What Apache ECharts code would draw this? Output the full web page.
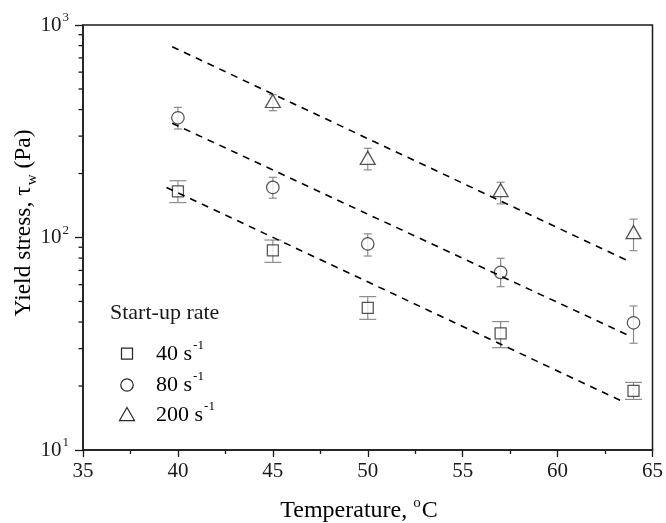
<!DOCTYPE html>
<html>
<head>
<meta charset="utf-8">
<script src="https://cdn.jsdelivr.net/npm/echarts@6/dist/echarts.min.js"></script>
<style>
  html, body { margin: 0; padding: 0; background: #fff; }
  #chart { width: 666px; height: 523px; }
</style>
</head>
<body>
<div id="chart"></div>
<script>
// Yield stress vs temperature for three start-up rates (log scale)
const temps = [40, 45, 50, 57, 64];
const temps200 = [45, 50, 57, 64];

const rate40 = [165, 87, 46.7, 35.4, 19.0];
const rate40Low = [146, 76.4, 41.2, 30.3, 17.3];
const rate40High = [185, 97.3, 52.7, 40.2, 20.8];

const rate80 = [366, 172, 93.2, 68.6, 39.7];
const rate80Low = [324, 153, 81.8, 58.7, 31.8];
const rate80High = [410, 192, 104, 79.8, 47.6];

const rate200 = [439, 237, 167, 106];
const rate200Low = [395, 208, 144, 86.7];
const rate200High = [470, 263, 182, 122];

// Exponential fits: [temperature, stress] at both ends
const fit40 = [[39.4, 172], [63.5, 16.8]];
const fit80 = [[39.7, 345], [63.8, 34.4]];
const fit200 = [[39.7, 790], [63.8, 77]];

const xTicks = [35, 40, 45, 50, 55, 60, 65];
const yMinorTicks = [20, 30, 40, 50, 60, 70, 80, 90, 200, 300, 400, 500, 600, 700, 800, 900];

const FONT = '"Liberation Serif", "Times New Roman", serif';
const INK = '#1a1a1a';
const MARK = '#2a2a2a';
const ERR = '#8c8c8c';

const chart = echarts.init(document.getElementById('chart'), null, { renderer: 'canvas' });

function pairs(xs, ys) { return xs.map((x, i) => [x, ys[i]]); }
function errData(xs, lo, hi, cap) { return xs.map((x, i) => [x, lo[i], hi[i], cap]); }

function errorBarItem(params, api) {
  const x = api.value(0);
  const lo = api.coord([x, api.value(1)]);
  const hi = api.coord([x, api.value(2)]);
  const half = api.value(3) / 2;
  const style = { stroke: ERR, lineWidth: 1.2, fill: null };
  return {
    type: 'group',
    children: [
      { type: 'line', shape: { x1: hi[0], y1: hi[1], x2: lo[0], y2: lo[1] }, style },
      { type: 'line', shape: { x1: hi[0] - half, y1: hi[1], x2: hi[0] + half, y2: hi[1] }, style },
      { type: 'line', shape: { x1: lo[0] - half, y1: lo[1], x2: lo[0] + half, y2: lo[1] }, style }
    ]
  };
}

function minorTickItem(params, api) {
  const p = api.coord([35, api.value(0)]);
  return {
    type: 'line',
    shape: { x1: p[0] - 4.5, y1: p[1], x2: p[0], y2: p[1] },
    style: { stroke: INK, lineWidth: 1.3 }
  };
}

const markStyle = { color: '#fff', borderColor: MARK, borderWidth: 1.25 };
const fitStyle = { color: '#000', width: 1.6, type: [7, 6] };

const supRich = {
  t: { fontFamily: FONT, fontSize: 21, color: INK },
  sup: { fontFamily: FONT, fontSize: 13, color: INK, padding: [0, 0, 14, 1] }
};

const option = {
  animation: false,
  backgroundColor: '#fff',
  grid: {
    left: 83, top: 25, right: 12, bottom: 73,
    show: true, borderColor: INK, borderWidth: 1.5, backgroundColor: 'transparent'
  },
  xAxis: {
    type: 'value', min: 35, max: 65, interval: 5,
    axisLine: { lineStyle: { color: INK, width: 1.5 } },
    axisTick: { inside: false, length: 7, lineStyle: { color: INK, width: 1.3 } },
    minorTick: { show: true, splitNumber: 2, length: 4, lineStyle: { color: INK, width: 1.3 } },
    splitLine: { show: false },
    axisLabel: {
      margin: 11, fontFamily: FONT, fontSize: 21, color: INK,
      formatter: v => (xTicks.includes(v) ? String(v) : '')
    }
  },
  yAxis: {
    type: 'log', logBase: 10, min: 10, max: 1000,
    axisLine: { lineStyle: { color: INK, width: 1.5 } },
    axisTick: { inside: false, length: 8, lineStyle: { color: INK, width: 1.3 } },
    splitLine: { show: false },
    axisLabel: {
      margin: 14, color: INK,
      formatter: v => '{t|10}{sup|' + Math.round(Math.log10(v)) + '}',
      rich: supRich
    }
  },
  series: [
    { type: 'custom', renderItem: minorTickItem, data: yMinorTicks.map(v => [v]), clip: false, silent: true, z: 5 },

    { type: 'custom', renderItem: errorBarItem, data: errData(temps, rate40Low, rate40High, 17), z: 1, silent: true },
    { type: 'custom', renderItem: errorBarItem, data: errData(temps, rate80Low, rate80High, 8), z: 1, silent: true },
    { type: 'custom', renderItem: errorBarItem, data: errData(temps200, rate200Low, rate200High, 8), z: 1, silent: true },

    { name: '40 s-1', type: 'scatter', symbol: 'rect', symbolSize: 11, itemStyle: markStyle, data: pairs(temps, rate40), z: 2 },
    { name: '80 s-1', type: 'scatter', symbol: 'circle', symbolSize: 12.5, itemStyle: markStyle, data: pairs(temps, rate80), z: 2 },
    { name: '200 s-1', type: 'scatter', symbol: 'triangle', symbolSize: [15, 13], itemStyle: markStyle, data: pairs(temps200, rate200), z: 2 },

    { type: 'line', data: fit40, symbol: 'none', lineStyle: fitStyle, z: 3, silent: true },
    { type: 'line', data: fit80, symbol: 'none', lineStyle: fitStyle, z: 3, silent: true },
    { type: 'line', data: fit200, symbol: 'none', lineStyle: fitStyle, z: 3, silent: true }
  ],
  graphic: [
    // axis titles
    {
      type: 'text', x: 359, y: 511,
      style: {
        text: '{t|Temperature, }{sup|o}{t|C}', align: 'center', verticalAlign: 'middle',
        rich: {
          t: { fontFamily: FONT, fontSize: 24, color: INK },
          sup: { fontFamily: FONT, fontSize: 15, color: INK, padding: [0, 1, 16, 0] }
        }
      }
    },
    {
      type: 'text', x: 24, y: 223, rotation: Math.PI / 2,
      style: {
        text: '{t|Yield stress, τ}{sub|w}{t| (Pa)}', align: 'center', verticalAlign: 'middle',
        rich: {
          t: { fontFamily: FONT, fontSize: 23.5, color: INK },
          sub: { fontFamily: FONT, fontSize: 15, color: INK, padding: [16, 0, 0, 1] }
        }
      }
    },
    // legend
    {
      type: 'text', x: 110, y: 313,
      style: { text: 'Start-up rate', fontFamily: FONT, fontSize: 22, fill: INK, verticalAlign: 'middle' }
    },
    { type: 'rect', shape: { x: 121.5, y: 348, width: 11, height: 11 }, style: { fill: '#fff', stroke: MARK, lineWidth: 1.25 } },
    { type: 'circle', shape: { cx: 127, cy: 385, r: 6.2 }, style: { fill: '#fff', stroke: MARK, lineWidth: 1.25 } },
    { type: 'polygon', shape: { points: [[127, 407.5], [134.5, 420.5], [119.5, 420.5]] }, style: { fill: '#fff', stroke: MARK, lineWidth: 1.25 } },
    {
      type: 'text', x: 156, y: 354,
      style: { text: '{t|40 s}{sup|-1}', verticalAlign: 'middle', rich: { t: { fontFamily: FONT, fontSize: 22, color: INK }, sup: { fontFamily: FONT, fontSize: 13, color: INK, padding: [0, 0, 16, 1] } } }
    },
    {
      type: 'text', x: 156, y: 385,
      style: { text: '{t|80 s}{sup|-1}', verticalAlign: 'middle', rich: { t: { fontFamily: FONT, fontSize: 22, color: INK }, sup: { fontFamily: FONT, fontSize: 13, color: INK, padding: [0, 0, 16, 1] } } }
    },
    {
      type: 'text', x: 156, y: 415,
      style: { text: '{t|200 s}{sup|-1}', verticalAlign: 'middle', rich: { t: { fontFamily: FONT, fontSize: 22, color: INK }, sup: { fontFamily: FONT, fontSize: 13, color: INK, padding: [0, 0, 16, 1] } } }
    }
  ]
};

chart.setOption(option);
</script>
</body>
</html>
